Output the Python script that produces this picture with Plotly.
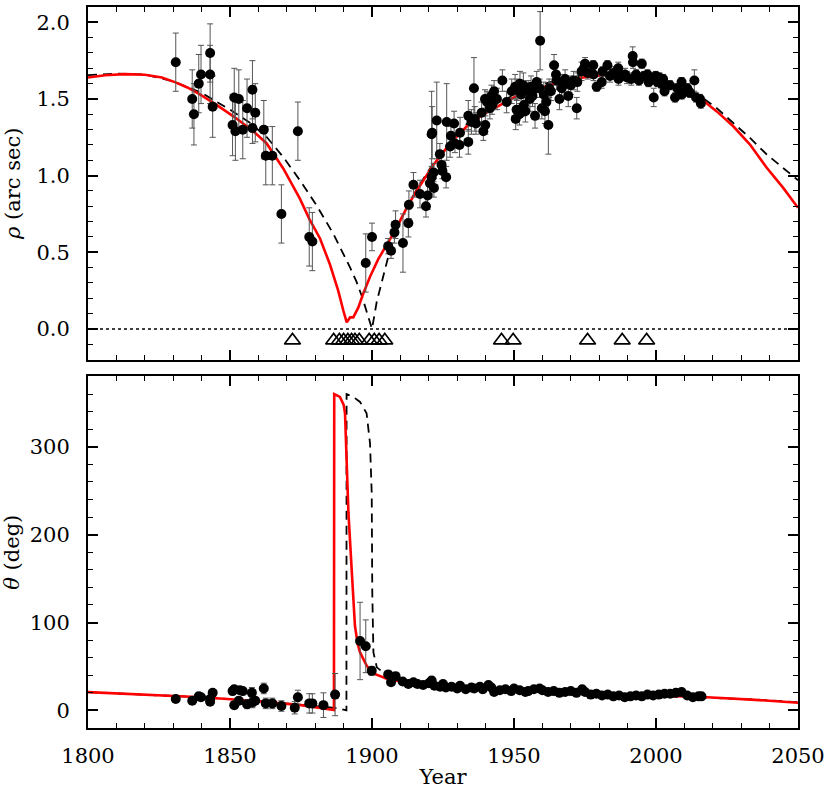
import plotly.graph_objects as go
from plotly.subplots import make_subplots

# measured separation rho (arc sec)
rho_year = [1830.9, 1836.7, 1837.3, 1839.0, 1839.8, 1843.0, 1843.0, 1843.9, 1850.9, 1851.5,
            1851.9, 1853.1, 1854.5, 1856.0, 1857.9, 1857.9, 1858.9, 1861.9, 1862.6, 1864.9,
            1868.1, 1873.9, 1877.9, 1879.0, 1897.8, 1900.0, 1905.7, 1906.7, 1907.9, 1908.3,
            1910.9, 1912.8, 1913.0, 1914.6, 1916.9, 1919.0, 1919.6, 1920.4, 1921.0, 1921.7,
            1921.8, 1921.0, 1921.2, 1922.8, 1923.9, 1924.5, 1924.8, 1926.1, 1926.3, 1927.5,
            1927.8, 1928.9, 1929.2, 1930.8, 1931.0, 1933.9, 1933.9, 1935.0, 1935.9, 1936.2,
            1936.6, 1938.6, 1939.2, 1939.8, 1939.9, 1940.5, 1941.5, 1942.1, 1942.3, 1943.0,
            1944.0, 1945.9, 1947.4, 1949.2, 1950.4, 1950.6, 1950.9, 1951.0, 1951.9, 1952.1,
            1952.5, 1953.3, 1953.5, 1954.0, 1955.0, 1955.6, 1956.0, 1956.5, 1957.4, 1957.7,
            1958.0, 1959.0, 1959.2, 1959.8, 1960.5, 1960.9, 1961.4, 1962.1, 1962.4, 1963.0,
            1964.1, 1964.8, 1965.0, 1966.0, 1966.8, 1967.5, 1968.0, 1969.1, 1970.0, 1971.0,
            1972.1, 1972.3, 1973.8, 1974.6, 1975.0, 1976.0, 1977.9, 1978.0, 1979.1, 1980.9,
            1981.2, 1982.9, 1983.8, 1985.0, 1986.7, 1986.8, 1987.4, 1989.1, 1989.8, 1991.3,
            1991.8, 1991.9, 1993.0, 1994.0, 1995.0, 1995.8, 1997.0, 1997.4, 1998.0, 1999.2,
            1999.9, 2000.5, 2001.2, 2001.9, 2002.5, 2003.0, 2004.9, 2006.7, 2007.5, 2009.0,
            2009.1, 2010.5, 2011.0, 2012.0, 2013.5, 2014.1, 2015.5, 2015.8]
rho_val = [1.74, 1.50, 1.40, 1.60, 1.66, 1.80, 1.66, 1.45, 1.33, 1.51,
           1.29, 1.50, 1.30, 1.44, 1.56, 1.31, 1.41, 1.30, 1.13, 1.13,
           0.75, 1.29, 0.60, 0.57, 0.43, 0.60, 0.54, 0.51, 0.63, 0.68,
           0.56, 0.69, 0.81, 0.94, 0.88, 0.80, 0.87, 0.95, 0.99, 1.02,
           0.92, 1.27, 1.28, 1.36, 1.14, 1.07, 1.03, 0.99, 1.35, 1.19,
           1.26, 1.34, 1.21, 1.20, 1.28, 1.22, 1.39, 1.35, 1.57, 1.37,
           1.34, 1.41, 1.29, 1.50, 1.33, 1.48, 1.44, 1.52, 1.46, 1.55,
           1.50, 1.62, 1.48, 1.55, 1.58, 1.37, 1.43, 1.56, 1.40, 1.60,
           1.53, 1.59, 1.46, 1.42, 1.55, 1.50, 1.58, 1.52, 1.39, 1.57,
           1.61, 1.57, 1.88, 1.44, 1.53, 1.42, 1.48, 1.33, 1.57, 1.55,
           1.72, 1.66, 1.62, 1.50, 1.57, 1.60, 1.63, 1.52, 1.59, 1.62,
           1.44, 1.61, 1.68, 1.70, 1.73, 1.67, 1.72, 1.66, 1.58, 1.61,
           1.68, 1.72, 1.65, 1.67, 1.70, 1.63, 1.66, 1.66, 1.64, 1.63,
           1.78, 1.74, 1.66, 1.62, 1.73, 1.65, 1.66, 1.61, 1.63, 1.51,
           1.65, 1.61, 1.64, 1.60, 1.63, 1.55, 1.59, 1.51, 1.57, 1.61,
           1.53, 1.55, 1.57, 1.54, 1.62, 1.51, 1.50, 1.47]
rho_err = [0.19, 0.19, 0.20, 0.19, 0.19, 0.19, 0.19, 0.20, 0.20, 0.19,
           0.19, 0.19, 0.19, 0.19, 0.19, 0.10, 0.19, 0.19, 0.19, 0.19,
           0.19, 0.19, 0.19, 0.19, 0.19, 0.09, 0.05, 0.05, 0.07, 0.09,
           0.19, 0.09, 0.09, 0.08, 0.09, 0.07, 0.09, 0.07, 0.07, 0.06,
           0.06, 0.28, 0.17, 0.25, 0.07, 0.06, 0.05, 0.07, 0.25, 0.07,
           0.06, 0.08, 0.06, 0.08, 0.10, 0.08, 0.10, 0.08, 0.20, 0.08,
           0.07, 0.07, 0.06, 0.06, 0.06, 0.07, 0.07, 0.07, 0.06, 0.07,
           0.07, 0.07, 0.07, 0.08, 0.08, 0.07, 0.07, 0.07, 0.07, 0.08,
           0.07, 0.08, 0.07, 0.07, 0.07, 0.08, 0.07, 0.07, 0.08, 0.06,
           0.07, 0.06, 0.19, 0.07, 0.08, 0.08, 0.07, 0.19, 0.06, 0.06,
           0.07, 0.07, 0.06, 0.07, 0.07, 0.06, 0.06, 0.07, 0.06, 0.06,
           0.07, 0.06, 0.06, 0.04, 0.04, 0.04, 0.03, 0.04, 0.03, 0.04,
           0.03, 0.03, 0.04, 0.04, 0.04, 0.04, 0.04, 0.04, 0.04, 0.04,
           0.06, 0.04, 0.03, 0.03, 0.03, 0.03, 0.03, 0.03, 0.03, 0.06,
           0.03, 0.03, 0.03, 0.03, 0.03, 0.03, 0.03, 0.03, 0.03, 0.03,
           0.03, 0.03, 0.03, 0.03, 0.07, 0.03, 0.03, 0.03]

# measured position angle theta (deg)
theta_year = [1830.9, 1836.7, 1839.0, 1839.8, 1843.0, 1843.9, 1843.0, 1850.9, 1851.5, 1851.5,
              1853.1, 1853.5, 1854.5, 1856.0, 1857.7, 1857.9, 1858.9, 1861.9, 1862.6, 1864.9,
              1868.1, 1872.8, 1873.9, 1877.9, 1879.0, 1882.9, 1887.0, 1895.8, 1897.8, 1899.9,
              1905.7, 1906.7, 1908.3, 1910.8, 1912.8, 1914.6, 1916.0, 1918.0, 1920.0, 1921.0,
              1922.0, 1924.0, 1925.0, 1926.0, 1928.0, 1930.0, 1931.0, 1933.0, 1935.0, 1936.0,
              1938.0, 1939.0, 1941.0, 1942.0, 1943.0, 1945.0, 1947.0, 1949.0, 1950.0, 1952.0,
              1954.0, 1955.0, 1957.0, 1959.0, 1960.0, 1962.0, 1964.0, 1966.0, 1968.0, 1970.0,
              1972.0, 1974.0, 1975.0, 1977.0, 1979.0, 1981.0, 1983.0, 1985.0, 1987.0, 1989.0,
              1991.0, 1993.0, 1995.0, 1997.0, 1999.0, 2001.0, 2003.0, 2005.0, 2007.0, 2009.0,
              2011.0, 2013.0, 2015.0, 2016.0]
theta_val = [13, 11, 16, 15, 13, 20, 10, 22, 24, 6,
             11, 23, 22, 7, 20, 9, 11, 25, 8, 8,
             5, 3, 15, 8, 8, 6, 18, 79, 73, 45,
             41, 32, 39, 33, 30, 32, 30, 29, 31, 34,
             28, 27, 30, 26, 27, 25, 28, 24, 26, 25,
             27, 24, 29, 26, 21, 23, 24, 22, 25, 23,
             21, 22, 24, 25, 23, 21, 22, 20, 21, 22,
             20, 24, 21, 18, 19, 17, 18, 16, 17, 15,
             16, 17, 16, 18, 17, 18, 19, 19, 20, 21,
             17, 15, 16, 16]
theta_err = [3, 3, 3, 3, 3, 3, 3, 4, 4, 4,
             4, 4, 3, 5, 6, 6, 4, 6, 6, 6,
             6, 7, 8, 11, 11, 14, 24, 44, 30, 5,
             3, 3, 3, 3, 3, 3, 3, 3, 3, 3,
             3, 3, 3, 3, 3, 3, 3, 3, 3, 3,
             3, 4, 3, 3, 3, 3, 3, 3, 3, 3,
             3, 3, 3, 3, 3, 3, 3, 3, 3, 3,
             3, 3, 3, 3, 3, 3, 3, 3, 3, 3,
             3, 3, 3, 3, 3, 3, 3, 3, 3, 3,
             3, 3, 3, 3]

# epochs shown as open triangles under the zero line
occ_year = [1872.0, 1886.5, 1888.5, 1890.0, 1891.5, 1892.8, 1894.0, 1895.5, 1899.0,
            1900.8, 1902.5, 1904.5, 1945.6, 1949.7, 1975.9, 1988.1, 1996.7]
occ_rho = [-0.075] * len(occ_year)

# orbit 1 (red, solid)
fit1_year = [1800, 1806, 1813, 1820, 1826, 1830.6, 1835, 1839.4, 1845, 1851.2,
             1858.2, 1862.9, 1868.8, 1874.6, 1878, 1881.7, 1885.2, 1888.1, 1889.9, 1891.1,
             1892.3, 1893.4, 1895.2, 1896.9, 1899.3, 1902.2, 1905.2, 1908.1, 1912.2, 1915.7,
             1921.6, 1927.5, 1933.3, 1939.2, 1945.1, 1950.9, 1956.8, 1962.7, 1968.5, 1974.4,
             1980.3, 1986.2, 1992.0, 1997.9, 2003.7, 2009.6, 2015.5, 2021.4, 2027.2, 2033.1,
             2039.0, 2044.8, 2050]
fit1_rho = [1.640, 1.655, 1.662, 1.658, 1.640, 1.610, 1.575, 1.530, 1.465, 1.387,
            1.290, 1.210, 1.045, 0.850, 0.715, 0.590, 0.420, 0.250, 0.120, 0.043,
            0.075, 0.075, 0.140, 0.230, 0.340, 0.455, 0.550, 0.640, 0.790, 0.900,
            1.070, 1.210, 1.320, 1.400, 1.460, 1.520, 1.560, 1.590, 1.620, 1.640,
            1.653, 1.658, 1.653, 1.636, 1.603, 1.567, 1.506, 1.419, 1.322, 1.203,
            1.051, 0.920, 0.790]
fit1_tyear = [1800, 1820, 1840, 1860, 1875, 1886.6, 1886.7, 1888.7, 1890.0, 1890.5,
              1891.1, 1891.7, 1892.9, 1894.0, 1895.0, 1895.8, 1898.1, 1900.5, 1905.2, 1914.6,
              1930, 1950, 1975, 2000, 2018, 2035, 2050]
fit1_theta = [20.8, 18.0, 15.0, 10.5, 6.0, 0.5, 360.0, 356.7, 348.0, 338.0,
              285.0, 225.0, 157.0, 96.0, 75.0, 66.0, 51.0, 42.0, 36.0, 30.0,
              26.5, 23.0, 19.5, 16.5, 15.0, 12.0, 8.7]

# orbit 2 (black, dashed)
fit2_year = [1800, 1810, 1820, 1830, 1840, 1850, 1857, 1863, 1868.8, 1874.6,
             1880.5, 1886.4, 1892.3, 1894.5, 1896.5, 1898.3, 1899.3, 1900, 1901.7, 1903.4,
             1905.7, 1907.5, 1910, 1915.7, 1921.6, 1927.5, 1933.3, 1939.2, 1945.1, 1950.9,
             1956.8, 1962.7, 1968.5, 1974.4, 1980.3, 1986.2, 1992.0, 1997.9, 2003.7, 2009.6,
             2015.5, 2021.4, 2027.2, 2033.1, 2039.0, 2046.0, 2050]
fit2_rho = [1.655, 1.665, 1.660, 1.615, 1.540, 1.430, 1.345, 1.250, 1.120, 0.970,
            0.805, 0.620, 0.400, 0.310, 0.210, 0.110, 0.045, 0.000, 0.180, 0.300,
            0.470, 0.600, 0.710, 0.910, 1.080, 1.225, 1.335, 1.415, 1.480, 1.535,
            1.575, 1.610, 1.635, 1.655, 1.665, 1.668, 1.662, 1.645, 1.615, 1.575,
            1.520, 1.440, 1.343, 1.246, 1.138, 1.030, 0.970]
fit2_tyear = [1800, 1820, 1840, 1860, 1875, 1888, 1891.0, 1891.05, 1893.4, 1895.8,
              1898.1, 1899.3, 1899.9, 1900.1, 1900.5, 1901.7, 1905.2, 1914.6, 1930, 1950,
              1975, 2000, 2018, 2035, 2050]
fit2_theta = [20.8, 18.0, 15.0, 10.8, 6.5, 2.5, 0.0, 360.0, 356.7, 351.0,
              338.0, 304.0, 247.0, 134.0, 66.0, 49.0, 40.0, 31.0, 26.8, 23.3,
              19.8, 16.8, 15.2, 12.4, 9.3]

FONT = "DejaVu Serif"

fig = make_subplots(rows=2, cols=1, shared_xaxes=True)

for row, (y1, y2, t1, t2) in enumerate([(fit1_year, fit1_rho, fit2_year, fit2_rho),
                                         (fit1_tyear, fit1_theta, fit2_tyear, fit2_theta)], start=1):
    fig.add_trace(go.Scatter(x=t1, y=t2, mode="lines",
                             line=dict(color="black", width=1.8, dash="9px,6px")), row=row, col=1)
    fig.add_trace(go.Scatter(x=y1, y=y2, mode="lines",
                             line=dict(color="#ff0000", width=2.6)), row=row, col=1)

fig.add_trace(go.Scatter(
    x=rho_year, y=rho_val, mode="markers",
    marker=dict(color="black", size=10),
    error_y=dict(type="data", array=rho_err, color="#555555", thickness=1, width=3)
), row=1, col=1)

fig.add_trace(go.Scatter(
    x=theta_year, y=theta_val, mode="markers",
    marker=dict(color="black", size=10),
    error_y=dict(type="data", array=theta_err, color="#555555", thickness=1, width=3)
), row=2, col=1)

fig.add_trace(go.Scatter(
    x=occ_year, y=occ_rho, mode="markers",
    marker=dict(symbol="triangle-up-open", color="black", size=14, line=dict(width=1.6))
), row=1, col=1)

fig.add_hline(y=0, line=dict(color="black", width=1.5, dash="dot"), row=1, col=1)

axis_common = dict(
    showline=True, linecolor="black", linewidth=2, mirror="allticks",
    ticks="inside", ticklen=10, tickwidth=1.5, tickcolor="black",
    showgrid=False, zeroline=False,
    tickfont=dict(family=FONT, size=21, color="black"),
)

fig.update_xaxes(**axis_common, range=[1800, 2050], tick0=1800, dtick=50,
                 minor=dict(ticks="inside", ticklen=5, dtick=10, tickcolor="black", tickwidth=1.2))
fig.update_xaxes(showticklabels=False, row=1, col=1)
fig.update_xaxes(title=dict(text="Year", font=dict(family=FONT, size=21, color="black"), standoff=2),
                 ticklabelstandoff=8, row=2, col=1)

fig.update_yaxes(**axis_common, ticklabelstandoff=12)
fig.update_yaxes(range=[-0.2, 2.1], tick0=0, dtick=0.5, tickformat=".1f",
                 minor=dict(ticks="inside", ticklen=5, dtick=0.1, tickcolor="black", tickwidth=1.2),
                 domain=[0.511, 1.0],
                 title=dict(text="<i>ρ</i> (arc sec)", font=dict(family=FONT, size=21, color="black"), standoff=10),
                 row=1, col=1)
fig.update_yaxes(range=[-20, 380], tick0=0, dtick=100,
                 minor=dict(ticks="inside", ticklen=5, dtick=20, tickcolor="black", tickwidth=1.2),
                 domain=[0.0, 0.4876],
                 title=dict(text="<i>θ</i> (deg)", font=dict(family=FONT, size=21, color="black"), standoff=10),
                 row=2, col=1)

fig.update_layout(
    width=830, height=790,
    margin=dict(l=88, r=32, t=5, b=61),
    plot_bgcolor="white", paper_bgcolor="white",
    showlegend=False,
    font=dict(family=FONT, color="black"),
)

# drop the browser's default body margin so the figure sits at the page corner
fig.write_html("out.html", config={"displayModeBar": False},
               post_script="document.body.style.margin='0px';")
